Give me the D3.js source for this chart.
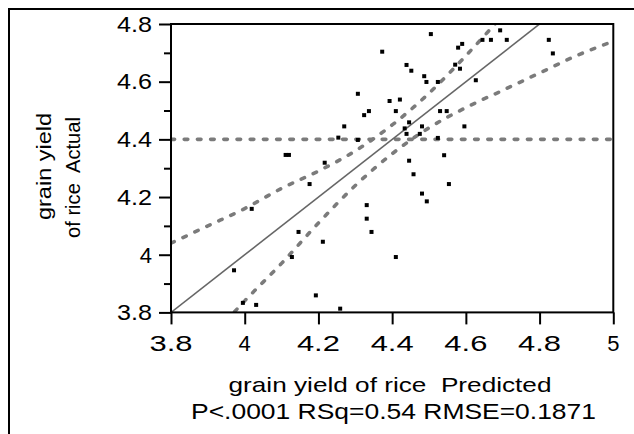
<!DOCTYPE html>
<html><head><meta charset="utf-8">
<script src="https://cdn.jsdelivr.net/npm/d3@7"></script>
<style>
body{margin:0;background:#fff}
svg{display:block}
text{font-family:"Liberation Sans",Arial,Helvetica,sans-serif;fill:#000;white-space:pre}
</style>
</head><body>
<svg id="chart" width="634" height="434"></svg>
<script>
// ---- data ----
const xTickValues = [3.8, 4, 4.2, 4.4, 4.6, 4.8, 5];
const yTickValues = [3.8, 4, 4.2, 4.4, 4.6, 4.8];
const yMinorTickValues = [3.9, 4.1, 4.3, 4.5, 4.7];

const predicted = [4.373,4.307,4.393,4.421,4.337,4.324,4.410,4.270,4.254,4.307,
  4.111,4.120,4.439,4.452,4.446,4.434,4.439,4.475,4.217,4.446,
  4.505,4.693,4.645,4.590,4.579,4.668,4.711,4.825,4.836,4.571,
  4.584,4.487,4.493,4.524,4.627,4.530,4.548,4.481,4.596,4.524,
  4.541,4.458,4.554,4.481,4.494,4.410,4.176,4.019,4.331,4.331,
  4.344,4.146,4.212,4.128,3.971,4.193,3.995,4.031,4.259];
const actual = [4.704,4.558,4.533,4.538,4.498,4.484,4.498,4.445,4.406,4.398,
  4.346,4.346,4.658,4.638,4.459,4.438,4.419,4.419,4.319,4.326,
  4.765,4.778,4.745,4.731,4.718,4.745,4.745,4.745,4.698,4.659,
  4.645,4.619,4.599,4.599,4.605,4.498,4.498,4.445,4.445,4.405,
  4.345,4.279,4.245,4.212,4.185,3.992,4.245,4.159,4.172,4.125,
  4.079,4.079,4.045,3.992,3.946,3.859,3.833,3.826,3.813];

const meanActual = 4.4;
const fitX = [3.8, 5];
const fitY = [3.8, 5];
const upperX = [3.8, 3.9, 4.0, 4.1, 4.2, 4.3, 4.4, 4.5, 4.6, 4.7];
const upperY = [4.04, 4.10, 4.16, 4.23, 4.29, 4.36, 4.45, 4.56, 4.69, 4.83];
const lowerX = [3.9, 4.0, 4.1, 4.2, 4.3, 4.4, 4.5, 4.6, 4.7, 4.8, 4.9, 5.0];
const lowerY = [3.70, 3.84, 3.97, 4.11, 4.24, 4.35, 4.44, 4.51, 4.57, 4.63, 4.69, 4.74];

const xTitle = "grain yield of rice  Predicted";
const statsText = "P<.0001 RSq=0.54 RMSE=0.1871";
const yTitle1 = "grain yield";
const yTitle2 = "of rice  Actual";

// ---- drawing ----
const svg = d3.select("#chart");
const L = 171, R = 613.3, T = 24, B = 312.4;
const x = d3.scaleLinear().domain([3.8, 5]).range([L, R]);
const y = d3.scaleLinear().domain([3.8, 4.8]).range([B, T]);

// outer frame (left + top)
svg.append("path").attr("d", `M9,434 V9 H634`)
  .attr("fill", "none").attr("stroke", "#000").attr("stroke-width", 2);

svg.append("clipPath").attr("id", "clip")
  .append("rect").attr("x", L).attr("y", T).attr("width", R - L).attr("height", B - T);

const plot = svg.append("g").attr("clip-path", "url(#clip)");
const dotStyle = sel => sel.attr("fill", "none").attr("stroke", "#7b7b7b")
  .attr("stroke-width", 3.6).attr("stroke-linecap", "round").attr("stroke-dasharray", "3.6 9.6");

// mean line
plot.append("line").attr("x1", x(3.8)).attr("x2", x(5))
  .attr("y1", y(meanActual)).attr("y2", y(meanActual)).call(dotStyle);

const line = d3.line().x(d => x(d[0])).y(d => y(d[1])).curve(d3.curveMonotoneX);
plot.append("path").attr("d", line(d3.zip(upperX, upperY))).call(dotStyle);
plot.append("path").attr("d", line(d3.zip(lowerX, lowerY))).call(dotStyle);

// fit line
plot.append("path").attr("d", d3.line().x(d => x(d[0])).y(d => y(d[1]))(d3.zip(fitX, fitY)))
  .attr("fill", "none").attr("stroke", "#666").attr("stroke-width", 1.6);

// points
svg.append("g").selectAll("rect").data(d3.zip(predicted, actual)).join("rect")
  .attr("x", d => x(d[0]) - 2).attr("y", d => y(d[1]) - 2)
  .attr("width", 4).attr("height", 4).attr("fill", "#000");

// plot frame
svg.append("rect").attr("x", L).attr("y", T).attr("width", R - L).attr("height", B - T)
  .attr("fill", "none").attr("stroke", "#000").attr("stroke-width", 2);

// x axis
const xAxis = svg.append("g").attr("transform", `translate(0,${B})`)
  .call(d3.axisBottom(x).tickValues(xTickValues).tickSize(12).tickSizeOuter(0).tickFormat(""));
xAxis.select(".domain").remove();
xAxis.selectAll(".tick line").attr("stroke", "#000").attr("stroke-width", 2);

svg.append("g").selectAll("text").data(xTickValues).join("text")
  .attr("x", d => x(d)).attr("y", 350.5)
  .attr("text-anchor", "middle").attr("font-size", 22)
  .text(d => String(d))
  .each(function (d) { if (String(d).length > 1) d3.select(this).attr("textLength", 43).attr("lengthAdjust", "spacingAndGlyphs"); });

// y axis
const yAxis = svg.append("g").attr("transform", `translate(${L},0)`)
  .call(d3.axisLeft(y).tickValues(yTickValues).tickSize(12).tickSizeOuter(0).tickFormat(""));
yAxis.select(".domain").remove();
yAxis.selectAll(".tick line").attr("stroke", "#000").attr("stroke-width", 2);
const yMinor = svg.append("g").attr("transform", `translate(${L},0)`)
  .call(d3.axisLeft(y).tickValues(yMinorTickValues).tickSize(7).tickSizeOuter(0).tickFormat(""));
yMinor.select(".domain").remove();
yMinor.selectAll(".tick line").attr("stroke", "#000").attr("stroke-width", 2);

svg.append("g").selectAll("text").data(yTickValues).join("text")
  .attr("x", 152).attr("y", d => y(d) + 7.8)
  .attr("text-anchor", "end").attr("font-size", 22)
  .text(d => String(d))
  .each(function (d) { if (String(d).length > 1) d3.select(this).attr("textLength", 35).attr("lengthAdjust", "spacingAndGlyphs"); });

// axis titles
svg.append("text").attr("x", 390).attr("y", 392).attr("text-anchor", "middle")
  .attr("font-size", 21).attr("textLength", 323).attr("lengthAdjust", "spacingAndGlyphs").text(xTitle);
svg.append("text").attr("x", 393.5).attr("y", 419).attr("text-anchor", "middle")
  .attr("font-size", 22).attr("textLength", 405).attr("lengthAdjust", "spacingAndGlyphs").text(statsText);

svg.append("text").attr("transform", `translate(51,166.5) rotate(-90)`).attr("text-anchor", "middle")
  .attr("font-size", 21).attr("textLength", 107).attr("lengthAdjust", "spacingAndGlyphs").text(yTitle1);
svg.append("text").attr("transform", `translate(80,177.5) rotate(-90)`).attr("text-anchor", "middle")
  .attr("font-size", 21).attr("textLength", 121).attr("lengthAdjust", "spacingAndGlyphs").text(yTitle2);
</script>
</body></html>
